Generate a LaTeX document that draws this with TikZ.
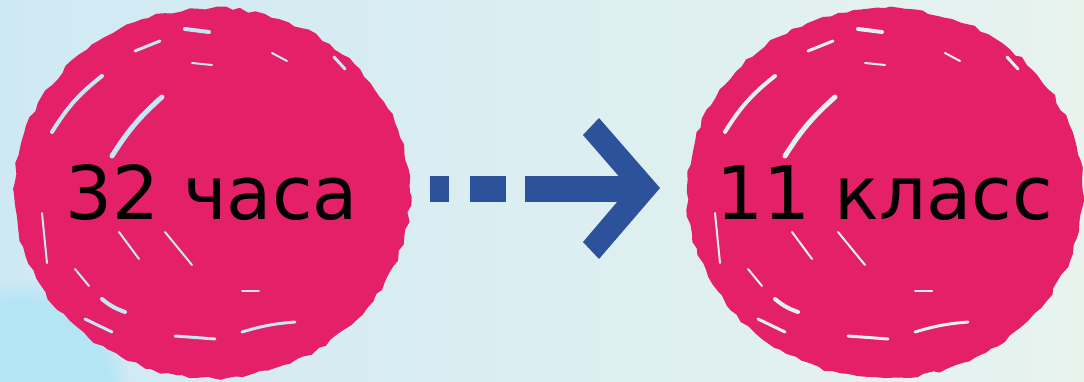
\documentclass[tikz,border=0pt]{standalone}
\usepackage{fontspec}
\newfontfamily\lbl{DejaVu Sans}
\usetikzlibrary{shapes.geometric,decorations.pathmorphing,fadings}
\definecolor{bgL}{HTML}{CFE9F4}
\definecolor{bgM}{HTML}{DDEEF3}
\definecolor{bgR}{HTML}{E8F3EE}
\definecolor{glow}{HTML}{B4E5F5}
\definecolor{pinkc}{HTML}{E32068}
\definecolor{arrowblue}{HTML}{2B529A}
\definecolor{strkL}{HTML}{C4E7F3}
\definecolor{strkR}{HTML}{E2F1EE}
\tikzset{
  blob/.style={ellipse, fill=pinkc, minimum width=396pt, minimum height=370pt, inner sep=0pt,
    decorate, decoration={random steps, segment length=8pt, amplitude=1.8pt},
    font=\lbl\fontsize{74}{78}\selectfont, text=black},
  streak/.style={line width=3pt, line cap=round},
  shaft/.style={draw=arrowblue, line width=26pt, dash pattern=on 19pt off 21pt on 36pt off 19pt on 300pt}
}
\newcommand\brushstreaks[2]{%
  \begin{scope}[shift={(#1)}]
    \draw[streak,#2,line width=5pt] (-50,-96) to[bend right=8] (-100,-37);
    \draw[streak,#2,line width=4pt] (-110,-117) to[bend right=10] (-160,-61);
    \draw[streak,#2] (-77,-142) -- (-52,-152);
    \draw[streak,#2,line width=4pt] (-27,-164) -- (-3,-161);
    \draw[streak,#2] (122,-136) -- (133,-124);
    \draw[streak,#2,line width=4pt] (-110,106) to[bend right=10] (-87,119);
    \draw[streak,#2] (30,139) to[bend left=6] (83,129);
    \draw[streak,#2] (-37,143) -- (3,146);
    \draw[streak,#2] (-127,126) -- (-100,139);
    \draw[streak,#2,line width=2pt] (-93,39) -- (-73,66);
    \draw[streak,#2,line width=2pt] (-47,39) -- (-20,72);
    \draw[streak,#2,line width=2pt] (30,98) -- (47,98);
    \draw[streak,#2,line width=2pt] (-137,76) -- (-123,93);
    \draw[streak,#2,line width=2pt] (-170,20) -- (-165,70);
    \draw[streak,#2,line width=2pt] (-20,-130) -- (0,-128);
    \draw[streak,#2,line width=2pt] (60,-140) -- (75,-132);
  \end{scope}}
\begin{document}
\begin{tikzpicture}[x=1pt,y=-1pt]
  \useasboundingbox (0,0) rectangle (1084,381);
  \shade[left color=bgL, middle color=bgM, right color=bgR] (0,0) rectangle (1084,381);
  \begin{scope}
    \clip (0,0) rectangle (1084,381);
    \fill[glow, path fading=circle with fuzzy edge 20 percent] (20,390) circle (110);
  \end{scope}
  \pgfmathsetseed{7}
  \node[blob] (c1) at (212,193) {};
  \node[blob] (c2) at (885,193) {};
  \brushstreaks{212,193}{draw=strkL}
  \brushstreaks{885,193}{draw=strkR}
  \node[font=\lbl\fontsize{74}{78}\selectfont] (t1) at (c1.center) {32 часа};
  \node[font=\lbl\fontsize{74}{78}\selectfont] (t2) at (c2.center) {11 класс};
  \coordinate (as) at (430,189);
  \coordinate (ae) at (640,189);
  \coordinate (tip) at (660,188);
  \draw[shaft] (as) -- (ae);
  \fill[arrowblue] (tip) -- ++(-61,-70) -- ++(-16,17) -- ++(46,53) -- ++(-46,54) -- ++(16,17) -- cycle;
\end{tikzpicture}
\end{document}
